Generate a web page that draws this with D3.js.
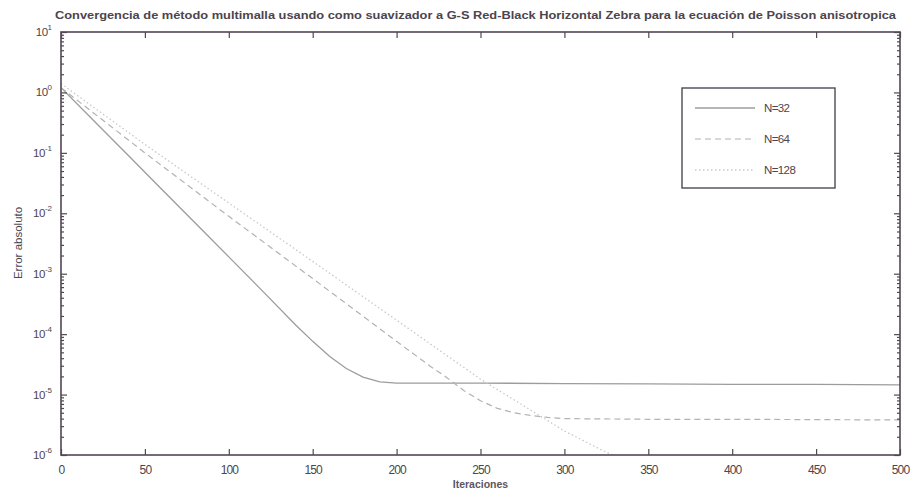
<!DOCTYPE html>
<html>
<head>
<meta charset="utf-8">
<script src="https://cdn.jsdelivr.net/npm/d3@7"></script>
<style>
  html, body { margin: 0; padding: 0; background: #fff; }
  svg { display: block; font-family: Arial, "Liberation Sans", sans-serif; }
</style>
</head>
<body>
<svg id="chart" width="911" height="491"></svg>
<script>
/* ── Data ──────────────────────────────────────────────── */
const TITLE = 'Convergencia de método multimalla usando como suavizador a G-S Red-Black Horizontal Zebra  para la ecuación de Poisson anisotropica';
const X_LABEL = 'Iteraciones';
const Y_LABEL = 'Error absoluto';

const xTicks = [0, 50, 100, 150, 200, 250, 300, 350, 400, 450, 500];
const yExponents = [1, 0, -1, -2, -3, -4, -5, -6];

const iterN32  = [0, 20, 40, 60, 80, 100, 120, 140, 150, 160, 170, 180, 190, 200, 250, 300, 350, 400, 450, 500];
const errN32   = [1.2, 0.33, 0.091, 0.025, 6.9e-3, 1.9e-3, 5.2e-4, 1.4e-4, 7.6e-5, 4.3e-5, 2.7e-5, 1.95e-5, 1.62e-5, 1.55e-5, 1.55e-5, 1.52e-5, 1.5e-5, 1.48e-5, 1.47e-5, 1.45e-5];

const iterN64  = [0, 50, 100, 150, 200, 220, 230, 240, 250, 260, 270, 280, 290, 300, 350, 400, 450, 500];
const errN64   = [1.2, 0.1, 8.9e-3, 8.3e-4, 7.6e-5, 2.95e-5, 1.9e-5, 1.17e-5, 7.9e-6, 5.9e-6, 5.0e-6, 4.5e-6, 4.2e-6, 4.0e-6, 3.9e-6, 3.9e-6, 3.85e-6, 3.8e-6];

const iterN128 = [0, 50, 100, 150, 200, 250, 300, 320, 340, 360, 400, 500];
const errN128  = [1.4, 0.138, 0.0148, 1.6e-3, 1.7e-4, 1.8e-5, 2.5e-6, 1.3e-6, 7e-7, 5e-7, 4.5e-7, 4.5e-7];

const seriesNames = ['N=32', 'N=64', 'N=128'];

/* ── Layout ────────────────────────────────────────────── */
const svg = d3.select('#chart');
const M = { left: 61, right: 900, top: 32, bottom: 455 };
const AXIS = '#514853';
const INK  = '#4c454e';

const x = d3.scaleLinear().domain([0, 500]).range([M.left, M.right]);
const y = d3.scaleLog().domain([1e-6, 10]).range([M.bottom, M.top]);

const series = [
  { name: seriesNames[0], iters: iterN32,  errs: errN32,  color: '#9c9c9c', dash: null,      width: 1.3 },
  { name: seriesNames[1], iters: iterN64,  errs: errN64,  color: '#b2b2b2', dash: '6,4',     width: 1.2 },
  { name: seriesNames[2], iters: iterN128, errs: errN128, color: '#c9c9c9', dash: '1.5,2.5', width: 1.3 },
];

/* ── Clip + curves ─────────────────────────────────────── */
svg.append('clipPath').attr('id', 'clip')
  .append('rect')
  .attr('x', M.left).attr('y', M.top)
  .attr('width', M.right - M.left).attr('height', M.bottom - M.top);

const line = d3.line().x(d => x(d[0])).y(d => y(d[1]));

const plot = svg.append('g').attr('clip-path', 'url(#clip)');
series.forEach(s => {
  plot.append('path')
    .datum(d3.zip(s.iters, s.errs))
    .attr('fill', 'none')
    .attr('stroke', s.color)
    .attr('stroke-width', s.width)
    .attr('stroke-dasharray', s.dash)
    .attr('d', line);
});

/* ── Box + ticks (MATLAB style, ticks inward) ──────────── */
svg.append('rect')
  .attr('x', M.left).attr('y', M.top)
  .attr('width', M.right - M.left).attr('height', M.bottom - M.top)
  .attr('fill', 'none').attr('stroke', AXIS).attr('stroke-width', 1.6);

const xAxisBottom = svg.append('g').attr('transform', `translate(0,${M.bottom})`)
  .call(d3.axisBottom(x).tickValues(xTicks).tickSizeInner(-6).tickSizeOuter(0).tickPadding(10));
svg.append('g').attr('transform', `translate(0,${M.top})`)
  .call(d3.axisTop(x).tickValues(xTicks).tickSizeInner(-6).tickSizeOuter(0).tickFormat(''));

// log ticks: majors + minors 2..9
const minors = [];
yExponents.slice(1).forEach(e => {
  for (let k = 2; k <= 9; k++) minors.push(k * Math.pow(10, e));
});
const majors = yExponents.map(e => Math.pow(10, e));

svg.append('g').attr('transform', `translate(${M.left},0)`)
  .call(d3.axisLeft(y).tickValues(majors).tickSizeInner(-6).tickSizeOuter(0).tickFormat(''));
svg.append('g').attr('transform', `translate(${M.left},0)`)
  .call(d3.axisLeft(y).tickValues(minors).tickSizeInner(-3).tickSizeOuter(0).tickFormat(''));
svg.append('g').attr('transform', `translate(${M.right},0)`)
  .call(d3.axisRight(y).tickValues(majors).tickSizeInner(-6).tickSizeOuter(0).tickFormat(''));
svg.append('g').attr('transform', `translate(${M.right},0)`)
  .call(d3.axisRight(y).tickValues(minors).tickSizeInner(-3).tickSizeOuter(0).tickFormat(''));

svg.selectAll('.domain').remove();
svg.selectAll('.tick line').attr('stroke', AXIS).attr('stroke-width', 1.2);
xAxisBottom.selectAll('.tick text')
  .attr('fill', INK).attr('font-size', 12).style('letter-spacing', '-0.9px');

// y labels: 10 with superscript exponent
const yl = svg.append('g');
yExponents.forEach(e => {
  const t = yl.append('text')
    .attr('x', M.left - 9).attr('y', y(Math.pow(10, e)) + 4)
    .attr('text-anchor', 'end')
    .attr('fill', INK).attr('font-size', 11.5);
  t.append('tspan').text('10').style('letter-spacing', '-0.5px');
  t.append('tspan').attr('dy', -6).attr('font-size', 8).text(e);
});

/* ── Titles ────────────────────────────────────────────── */
svg.append('text')
  .attr('x', 55).attr('y', 19)
  .attr('textLength', 841).attr('lengthAdjust', 'spacingAndGlyphs')
  .attr('font-size', 11.5).attr('font-weight', 'bold').attr('fill', INK)
  .text(TITLE);

svg.append('text')
  .attr('x', (M.left + M.right) / 2).attr('y', 488)
  .attr('text-anchor', 'middle')
  .attr('font-size', 10.5).attr('font-weight', 'bold').attr('fill', '#5e565f')
  .text(X_LABEL);

svg.append('text')
  .attr('transform', `translate(22,243) rotate(-90)`)
  .attr('text-anchor', 'middle')
  .attr('font-size', 11.5).attr('fill', INK)
  .text(Y_LABEL);

/* ── Legend ────────────────────────────────────────────── */
const lg = svg.append('g');
lg.append('rect')
  .attr('x', 682).attr('y', 88).attr('width', 153).attr('height', 100)
  .attr('fill', '#fff').attr('stroke', AXIS).attr('stroke-width', 1.4);

series.forEach((s, i) => {
  const ly = 108 + i * 31;
  lg.append('line')
    .attr('x1', 695).attr('x2', 755).attr('y1', ly).attr('y2', ly)
    .attr('stroke', s.color).attr('stroke-width', s.width)
    .attr('stroke-dasharray', s.dash);
  lg.append('text')
    .attr('x', 764).attr('y', ly + 4)
    .attr('font-size', 11.5).attr('fill', INK)
    .style('letter-spacing', '-0.6px')
    .text(s.name);
});
</script>
</body>
</html>
